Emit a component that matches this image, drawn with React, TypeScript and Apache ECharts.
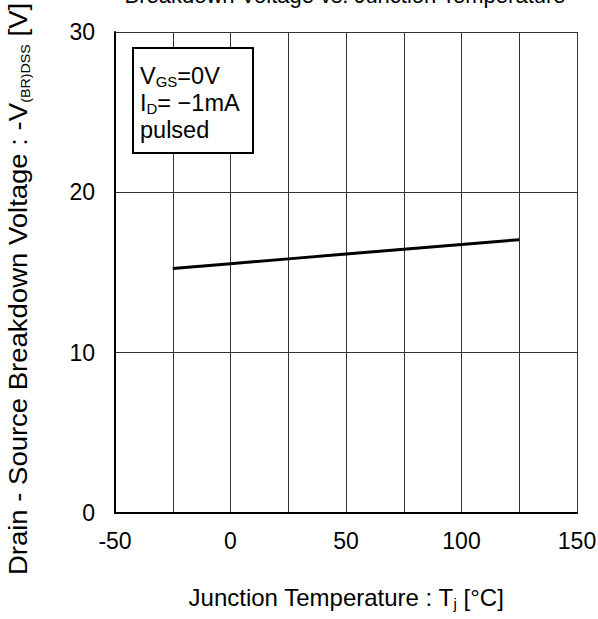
import React, { useEffect, useRef } from "react";
import * as echarts from "echarts";

const temperatures = [-25, 0, 25, 50, 75, 100, 125];
const breakdownVoltage = [15.25, 15.55, 15.85, 16.15, 16.45, 16.75, 17.05];
const xTicks = [-50, 0, 50, 100, 150];
const yTicks = [0, 10, 20, 30];

const FONT = "Arial, 'Liberation Sans', sans-serif";

export default function App() {
  const ref = useRef<HTMLDivElement>(null);
  useEffect(() => {
    if (!ref.current) return;
    const chart = echarts.init(ref.current, null, { renderer: "svg" });
    chart.setOption({
      animation: false,
      backgroundColor: "#fff",
      title: {
        text: "Breakdown Voltage vs. Junction Temperature",
        left: 340,
        textAlign: "center",
        top: -21,
        textStyle: { fontFamily: FONT, fontSize: 22, fontWeight: "normal", color: "#000" },
      },
      grid: { left: 115, right: 21, top: 32, bottom: 106, outerBoundsMode: "none", containLabel: false },
      xAxis: {
        type: "value",
        min: -50,
        max: 150,
        interval: 25,
        name: "Junction Temperature : T{s|j} [°C]",
        nameLocation: "middle",
        nameGap: 70,
        nameTextStyle: {
          fontFamily: FONT,
          fontSize: 24,
          lineHeight: 28,
          color: "#000",
          rich: {
            s: { fontFamily: FONT, fontSize: 15, lineHeight: 15, color: "#000", verticalAlign: "bottom" },
          },
        },
        axisLine: { show: true, onZero: false, lineStyle: { color: "#000", width: 2 } },
        axisTick: { show: false },
        splitLine: { show: true, lineStyle: { color: "#333", width: 1 } },
        axisLabel: {
          margin: 16,
          fontFamily: FONT,
          fontSize: 23,
          color: "#000",
          formatter: (v: number) => (xTicks.includes(v) ? String(v) : ""),
        },
      },
      yAxis: {
        type: "value",
        min: 0,
        max: 30,
        interval: 10,
        axisLine: { show: true, onZero: false, lineStyle: { color: "#000", width: 2 } },
        axisTick: { show: false },
        splitLine: { show: true, lineStyle: { color: "#333", width: 1 } },
        axisLabel: {
          margin: 20,
          fontFamily: FONT,
          fontSize: 23,
          color: "#000",
          formatter: (v: number) => (yTicks.includes(v) ? String(v) : ""),
        },
      },
      series: [
        {
          type: "line",
          data: temperatures.map((t, i) => [t, breakdownVoltage[i]]),
          showSymbol: false,
          lineStyle: { color: "#000", width: 3 },
          z: 5,
        },
      ],
      graphic: [
        {
          type: "text",
          x: 18,
          y: 289,
          rotation: Math.PI / 2,
          scaleX: 1.1,
          scaleY: 1,
          style: {
            text: "Drain - Source Breakdown Voltage : -V{s|(BR)DSS} [V]",
            fontFamily: FONT,
            fontSize: 25,
            lineHeight: 28,
            fill: "#000",
            align: "center",
            verticalAlign: "middle",
            rich: {
              s: { fontFamily: FONT, fontSize: 13, lineHeight: 13, fill: "#000", verticalAlign: "bottom" },
            },
          },
        },
        {
          type: "rect",
          x: 133,
          y: 48,
          shape: { width: 120, height: 105 },
          style: { fill: "#fff", stroke: "#000", lineWidth: 2 },
          z: 10,
        },
        {
          type: "text",
          x: 140,
          y: 62,
          z: 11,
          style: {
            text: "V{s|GS}=0V\nI{s|D}= \u22121mA\npulsed",
            fontFamily: FONT,
            fontSize: 23.5,
            lineHeight: 27,
            fill: "#000",
            rich: {
              s: { fontFamily: FONT, fontSize: 15, lineHeight: 15, fill: "#000", verticalAlign: "bottom" },
            },
          },
        },
      ],
    });
    return () => chart.dispose();
  }, []);
  return (
    <div
      ref={ref}
      style={{ position: "absolute", left: 0, top: 0, width: 598, height: 619, background: "#fff" }}
    />
  );
}
